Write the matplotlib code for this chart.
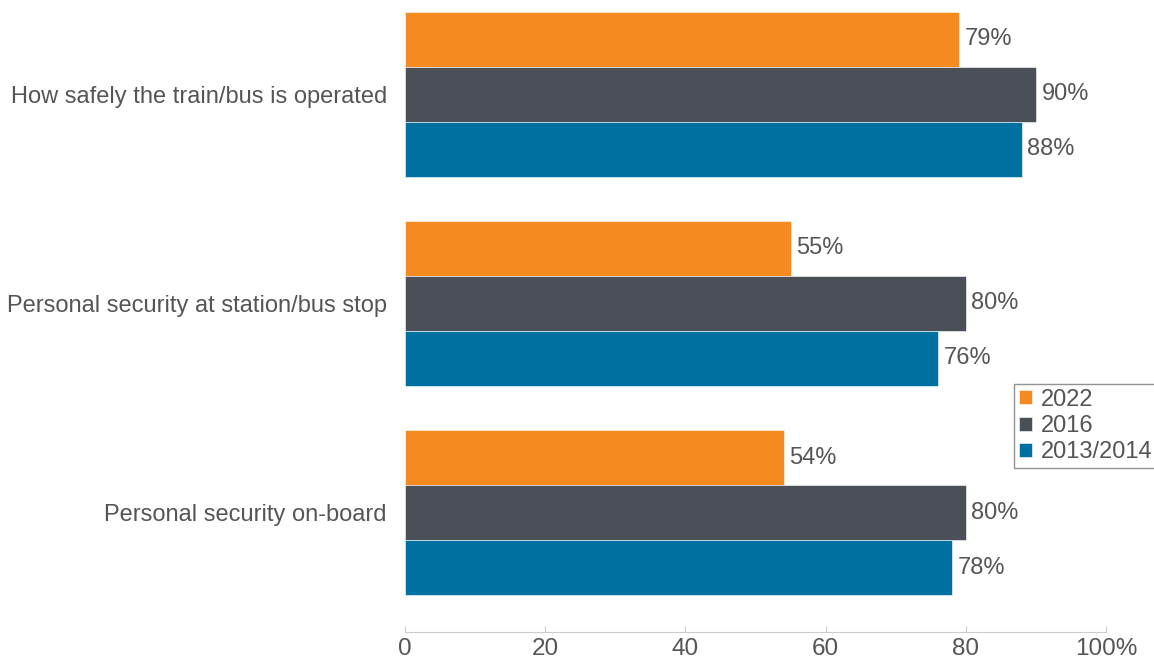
import matplotlib
matplotlib.use("Agg")
import matplotlib.pyplot as plt
import numpy as np

plt.rcParams['font.family'] = ['Liberation Sans', 'DejaVu Sans']

categories = ["How safely the train/bus is operated",
              "Personal security at station/bus stop",
              "Personal security on-board"]
series_names = ["2022", "2016", "2013/2014"]
v2022 = [79, 55, 54]
v2016 = [90, 80, 80]
v2013 = [88, 76, 78]
xticks = [0, 20, 40, 60, 80, 100]
xticklabels = ["0", "20", "40", "60", "80", "100%"]

colors = ["#F58B20", "#4B4F58", "#0070A1"]
text_color = "#555555"
fs = 17

fig = plt.figure(figsize=(11.54, 6.59), dpi=100)
ax = fig.add_axes([405/1154, 27/659, (1106-405)/1154, 632/659])

h = 0.263
y = np.arange(len(categories))
handles = []
for i, (vals, name, c) in enumerate(zip([v2022, v2016, v2013], series_names, colors)):
    pos = y + (i - 1) * h
    b = ax.barh(pos, vals, height=h, color=c, edgecolor="white", linewidth=0.4, label=name)
    handles.append(b)
    for p, v in zip(pos, vals):
        ax.text(v + 0.8, p, f"{v}%", va="center", ha="left", fontsize=fs, color=text_color)

ax.set_ylim(2.57, -0.45)
ax.set_xlim(0, 100)
ax.set_yticks(y)
ax.set_yticklabels(categories, fontsize=fs, color=text_color)
ax.tick_params(axis="y", length=0, pad=13)
ax.set_xticks(xticks)
ax.set_xticklabels(xticklabels, fontsize=fs + 0.5, color=text_color)
ax.tick_params(axis="x", direction="in", length=4, color="#cccccc", pad=4)
for s in ["top", "right", "left"]:
    ax.spines[s].set_visible(False)
ax.spines["bottom"].set_color("#cccccc")

leg = fig.legend(handles=handles, labels=series_names, loc="upper left",
                 bbox_to_anchor=(1014/1154, 1 - 384/659), fontsize=fs,
                 frameon=True, fancybox=False, edgecolor="#777777",
                 handlelength=0.55, handleheight=0.55, handletextpad=0.4,
                 borderpad=0.2, labelspacing=0.18, borderaxespad=0)
for t in leg.get_texts():
    t.set_color(text_color)

fig.savefig("out.png", dpi=100)
